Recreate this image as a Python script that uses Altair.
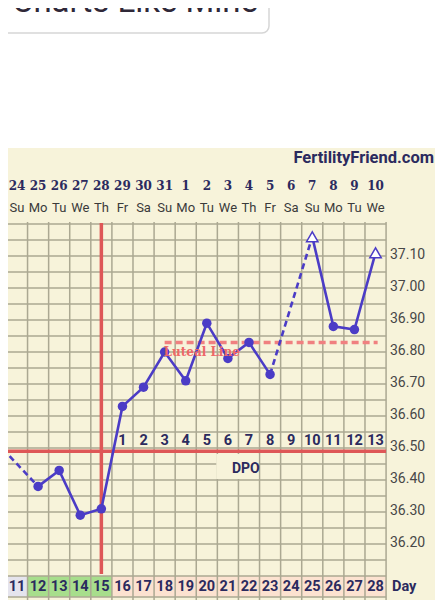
import altair as alt
import pandas as pd
import numpy as np

# ---------------- data ----------------
cycle_days = list(range(11, 29))
dates = ["24", "25", "26", "27", "28", "29", "30", "31", "1", "2",
         "3", "4", "5", "6", "7", "8", "9", "10"]
weekdays = ["Su", "Mo", "Tu", "We", "Th", "Fr", "Sa", "Su", "Mo", "Tu",
            "We", "Th", "Fr", "Sa", "Su", "Mo", "Tu", "We"]
phases = ["other"] + ["fertile"] * 4 + ["luteal"] * 13

temp_days = [10, 12, 13, 14, 15, 16, 17, 18, 19, 20, 21, 22, 23, 25, 26, 27, 28]
temps = [36.52, 36.38, 36.43, 36.29, 36.31, 36.63, 36.69, 36.80, 36.71, 36.89,
         36.78, 36.83, 36.73, 37.16, 36.88, 36.87, 37.11]
markers = ["circle"] * 13 + ["open"] + ["circle"] * 2 + ["open"]

dpo_days = list(range(16, 29))
dpo_labels = [str(i) for i in range(1, 14)]

temp_ticks = [36.20, 36.30, 36.40, 36.50, 36.60, 36.70, 36.80, 36.90, 37.00, 37.10]
grid_temps = [round(36.10 + 0.05 * i, 2) for i in range(23)]

coverline = 36.49
ovulation_day = 15
luteal_line = 36.83
luteal_start, luteal_end = 18, 28.1

# ---------------- geometry helpers ----------------
W, H = 427, 592
PX_DAY, PX_DEG = 21.09, 320.0
X0 = 11 - (17 - 8) / PX_DAY
X1 = X0 + W / PX_DAY
Y_TOP = 37.875
Y_BOT = Y_TOP - H / PX_DEG


def dx(px):
    return X0 + (px - 8) / PX_DAY


def ty(py):
    return Y_TOP - (py - 8) / PX_DEG


xs = alt.Scale(domain=[X0, X1], nice=False, zero=False)
ys = alt.Scale(domain=[Y_BOT, Y_TOP], nice=False, zero=False)


def X(f="x"):
    return alt.X(f, type="quantitative", scale=xs, axis=None)


def X2(f="x2"):
    return alt.X2(f)


def Y(f="y"):
    return alt.Y(f, type="quantitative", scale=ys, axis=None)


def Y2(f="y2"):
    return alt.Y2(f)


NAVY = "#2B2A5E"
GRID = "#ABA892"
CREAM = "#F7F3DA"
PURPLE = "#4B3CC6"
RED = "#DE5757"
PINK = "#F08080"

layers = []

# cream background
bg = pd.DataFrame({"x": [X0], "x2": [X1], "y": [Y_BOT], "y2": [ty(148)]})
layers.append(alt.Chart(bg).mark_rect(color=CREAM).encode(X(), X2(), Y(), Y2()))

# button at top
btn = pd.DataFrame({"x": [dx(-10)], "x2": [dx(269)], "y": [ty(33)], "y2": [ty(-20)]})
layers.append(alt.Chart(btn).mark_rect(fill="white", stroke="#D6D6D6", strokeWidth=1.5,
                                       cornerRadius=7, clip=True)
              .encode(X(), X2(), Y(), Y2()))
btn_t = pd.DataFrame({"x": [dx(258)], "y": [ty(12)], "t": ["Charts Like Mine"]})
layers.append(alt.Chart(btn_t).mark_text(align="right", baseline="alphabetic", font="Roboto",
                                         fontSize=33, color="#2F2838")
              .encode(X(), Y(), text="t:N"))

# day row cell fills
cells = pd.DataFrame({"d": cycle_days, "phase": phases})
cells["x"] = cells["d"] - 0.5
cells["x2"] = cells["d"] + 0.5
cells["y"] = ty(597)
cells["y2"] = 36.10
layers.append(alt.Chart(cells).mark_rect(clip=True).encode(
    X(), X2(), Y(), Y2(),
    color=alt.Color("phase:N", legend=None,
                    scale=alt.Scale(domain=["other", "fertile", "luteal"],
                                    range=["#E5E4ED", "#A7DE8C", "#FCE2D0"]))))

# horizontal grid lines
hg = pd.DataFrame({"y": grid_temps + [ty(597)]})
hg["x"] = X0 - 1
hg["x2"] = cycle_days[-1] + 0.5
layers.append(alt.Chart(hg).mark_rule(color=GRID, strokeWidth=1.5, clip=True)
              .encode(X(), X2(), Y()))

# vertical grid lines
vg = pd.DataFrame({"x": [d + 0.5 for d in [cycle_days[0] - 1] + cycle_days]})
vg["y"] = Y_BOT
vg["y2"] = ty(222)
layers.append(alt.Chart(vg).mark_rule(color=GRID, strokeWidth=1.5, clip=True)
              .encode(X(), Y(), Y2()))

# DPO label box
dbox = pd.DataFrame({"x": [20.45], "x2": [22.45], "y": [ty(479)], "y2": [ty(454)]})
layers.append(alt.Chart(dbox).mark_rect(color=CREAM).encode(X(), X2(), Y(), Y2()))

# coverline
cl = pd.DataFrame({"x": [X0 - 1], "x2": [cycle_days[-1] + 0.5], "y": [coverline]})
layers.append(alt.Chart(cl).mark_rule(color=RED, strokeWidth=3.5, clip=True)
              .encode(X(), X2(), Y()))

# ovulation line
ov = pd.DataFrame({"x": [ovulation_day], "y": [ty(574)], "y2": [ty(223)]})
layers.append(alt.Chart(ov).mark_rule(color=RED, strokeWidth=3.5).encode(X(), Y(), Y2()))

# luteal line
ll = pd.DataFrame({"x": [luteal_start], "x2": [luteal_end], "y": [luteal_line]})
layers.append(alt.Chart(ll).mark_rule(color=PINK, strokeWidth=3.5, strokeDash=[7, 4])
              .encode(X(), X2(), Y()))

# temperature line segments
solid_rows, dash_rows = [], []
seg = 0
for i, (d, t) in enumerate(zip(temp_days, temps)):
    if i > 0 and d - temp_days[i - 1] > 1:
        dash_rows += [{"x": temp_days[i - 1], "y": temps[i - 1], "s": i},
                      {"x": d, "y": t, "s": i}]
        seg += 1
    solid_rows.append({"x": d, "y": t, "s": seg})
solid = pd.DataFrame(solid_rows)
dashed = pd.DataFrame(dash_rows)
layers.append(alt.Chart(dashed).mark_line(color=PURPLE, strokeWidth=2.6, strokeDash=[6, 4],
                                          clip=True)
              .encode(X(), Y(), detail="s:N"))
layers.append(alt.Chart(solid).mark_line(color=PURPLE, strokeWidth=2.6, clip=True)
              .encode(X(), Y(), detail="s:N"))

pts = pd.DataFrame({"x": temp_days, "y": temps, "m": markers})
layers.append(alt.Chart(pts[pts.m == "circle"]).mark_point(
    shape="circle", filled=True, size=90, color=PURPLE, opacity=1, clip=True)
    .encode(X(), Y()))
layers.append(alt.Chart(pts[pts.m == "open"]).mark_point(
    shape="triangle-up", filled=True, size=130, fill="white", stroke=PURPLE,
    strokeWidth=1.5, opacity=1, clip=True)
    .encode(X(), Y()))

# luteal label
lt = pd.DataFrame({"x": [luteal_start - 0.05], "y": [ty(352)], "t": ["Luteal Line"]})
layers.append(alt.Chart(lt).mark_text(align="left", baseline="middle", font="DejaVu Serif",
                                      fontWeight="bold", fontSize=12, color="#EE6868")
              .encode(X(), Y(), text="t:N"))

# header texts
ff = pd.DataFrame({"x": [dx(434)], "y": [ty(158)], "t": ["FertilityFriend.com"]})
layers.append(alt.Chart(ff).mark_text(align="right", baseline="middle", font="Roboto",
                                      fontWeight="bold", fontSize=16.5, color=NAVY)
              .encode(X(), Y(), text="t:N"))

hdr = pd.DataFrame({"x": cycle_days, "date": dates, "wd": weekdays})
hdr["y1"] = ty(186)
hdr["y2"] = ty(208)
layers.append(alt.Chart(hdr).mark_text(baseline="middle", font="DejaVu Serif", fontWeight="bold",
                                       fontSize=12, color=NAVY)
              .encode(X(), Y("y1"), text="date:N"))
layers.append(alt.Chart(hdr).mark_text(baseline="middle", font="Roboto", fontSize=13,
                                       color="#3A3A3A")
              .encode(X(), Y("y2"), text="wd:N"))

# DPO numbers
dpo = pd.DataFrame({"x": dpo_days, "t": dpo_labels})
dpo["y"] = ty(441)
layers.append(alt.Chart(dpo).mark_text(baseline="middle", font="Roboto", fontWeight="bold",
                                       fontSize=14.5, color=NAVY)
              .encode(X(), Y(), text="t:N"))
dl = pd.DataFrame({"x": [21.85], "y": [ty(469)], "t": ["DPO"]})
layers.append(alt.Chart(dl).mark_text(baseline="middle", font="Roboto", fontWeight="bold",
                                      fontSize=14, color=NAVY)
              .encode(X(), Y(), text="t:N"))

# temperature labels
tl = pd.DataFrame({"y": temp_ticks, "t": [f"{v:.2f}" for v in temp_ticks]})
tl["x"] = dx(390)
layers.append(alt.Chart(tl).mark_text(align="left", baseline="middle", font="Roboto",
                                      fontSize=14, color="#474747", dy=-1)
              .encode(X(), Y(), text="t:N"))

# cycle day row
dr = pd.DataFrame({"x": cycle_days, "t": [str(d) for d in cycle_days]})
dr["y"] = ty(587)
layers.append(alt.Chart(dr).mark_text(baseline="middle", font="Roboto", fontWeight="bold",
                                      fontSize=14.5, color=NAVY)
              .encode(X(), Y(), text="t:N"))
dy_ = pd.DataFrame({"x": [dx(392)], "y": [ty(587)], "t": ["Day"]})
layers.append(alt.Chart(dy_).mark_text(align="left", baseline="middle", font="Roboto",
                                       fontWeight="bold", fontSize=14.5, color=NAVY)
              .encode(X(), Y(), text="t:N"))

chart = alt.layer(*layers).properties(
    width=W, height=H,
    autosize=alt.AutoSizeParams(type="none"),
    padding=0,
    background="white",
).configure_view(stroke=None)

chart.save("out.html", embed_options={"renderer": "svg", "actions": False})
